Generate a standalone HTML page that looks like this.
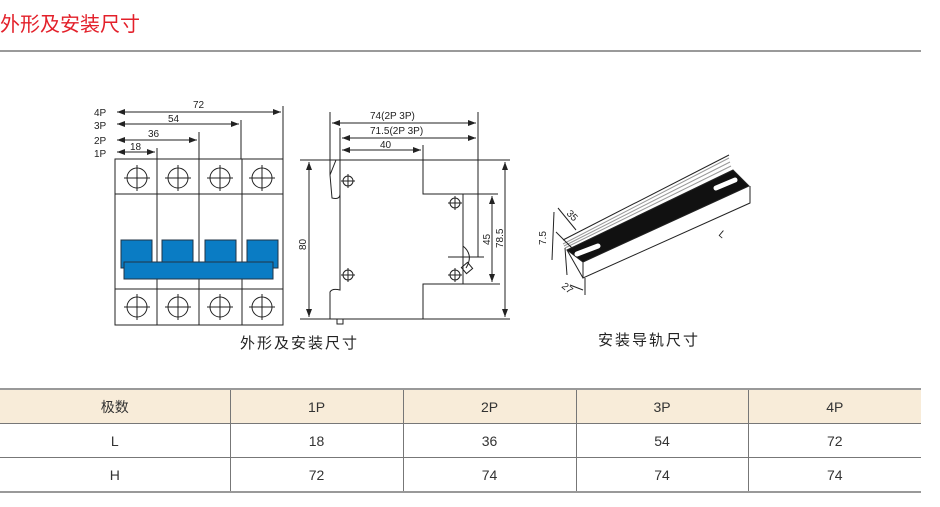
<!DOCTYPE html>
<html><head><meta charset="utf-8"><style>
body{margin:0;background:#fff;width:940px;height:507px;overflow:hidden;font-family:"Liberation Sans","Noto Sans CJK SC",sans-serif}
.t{position:absolute;left:0;top:8px;color:#e3202a;font-size:20px}
.hl{position:absolute;left:0;top:50px;width:921px;height:2px;background:#9a9a9a}
table{position:absolute;left:0;top:388px;width:921px;border-collapse:collapse;table-layout:fixed;font-size:14px;color:#333}
td{border:1px solid #777;text-align:center;height:33px;padding:0}
tr:first-child td{background:#f8ecd9}
table{border-top:2px solid #999;border-bottom:2px solid #999}
td:first-child{border-left:none}td:last-child{border-right:none}
</style></head><body>
<div class="t">外形及安装尺寸</div><div class="hl"></div>
<svg width="940" height="380" style="position:absolute;left:0;top:0" font-family="Liberation Sans, sans-serif" font-size="10">
<defs><marker id="a" markerWidth="8" markerHeight="6" refX="8" refY="3" orient="auto-start-reverse"><path d="M0,0L8,3L0,6z" fill="#222"/></marker></defs>
<g stroke="#222" stroke-width="1" fill="none">
<rect x="115" y="159" width="168" height="166"/>
<line x1="115" y1="194" x2="283" y2="194"/><line x1="115" y1="289" x2="283" y2="289"/>
<line x1="157" y1="159" x2="157" y2="325"/><line x1="199" y1="159" x2="199" y2="325"/><line x1="242" y1="159" x2="242" y2="325"/>
<g id="c"><circle cx="137" cy="178" r="10"/><line x1="124" y1="178" x2="150" y2="178"/><line x1="137" y1="165" x2="137" y2="191"/></g>
<use href="#c" x="41"/><use href="#c" x="83"/><use href="#c" x="125"/>
<use href="#c" y="129"/><use href="#c" x="41" y="129"/><use href="#c" x="83" y="129"/><use href="#c" x="125" y="129"/>
<g fill="#0a7cc4" stroke="#234"><rect x="121" y="240" width="31" height="28"/><rect x="162" y="240" width="31" height="28"/><rect x="205" y="240" width="31" height="28"/><rect x="247" y="240" width="31" height="28"/><rect x="124" y="262" width="149" height="17"/></g>
<line x1="117" y1="112" x2="281" y2="112" marker-start="url(#a)" marker-end="url(#a)"/>
<line x1="117" y1="124" x2="239" y2="124" marker-start="url(#a)" marker-end="url(#a)"/>
<line x1="117" y1="140" x2="197" y2="140" marker-start="url(#a)" marker-end="url(#a)"/>
<line x1="117" y1="152" x2="155" y2="152" marker-start="url(#a)" marker-end="url(#a)"/>
<line x1="283" y1="106" x2="283" y2="159"/><line x1="241" y1="120" x2="241" y2="159"/><line x1="199" y1="132" x2="199" y2="159"/><line x1="157" y1="148" x2="157" y2="159"/>
<path d="M300,160H340V194Q340,200 332,198L330,175L336,160M340,194V290Q332,288 330,292V319H423V284H463V194H423V160H340"/>
<line x1="423" y1="160" x2="510" y2="160"/><line x1="300" y1="319" x2="510" y2="319"/>
<line x1="463" y1="284" x2="500" y2="284"/><line x1="463" y1="194" x2="498" y2="194"/><line x1="448" y1="257" x2="484" y2="257"/>
<line x1="330" y1="112" x2="330" y2="175"/><line x1="340" y1="128" x2="340" y2="160"/><line x1="423" y1="145" x2="423" y2="194"/><line x1="478" y1="112" x2="478" y2="257"/>
<line x1="332" y1="123" x2="476" y2="123" marker-start="url(#a)" marker-end="url(#a)"/>
<line x1="342" y1="138" x2="476" y2="138" marker-start="url(#a)" marker-end="url(#a)"/>
<line x1="342" y1="150" x2="421" y2="150" marker-start="url(#a)" marker-end="url(#a)"/>
<line x1="309" y1="162" x2="309" y2="317" marker-start="url(#a)" marker-end="url(#a)"/>
<line x1="505" y1="162" x2="505" y2="317" marker-start="url(#a)" marker-end="url(#a)"/>
<line x1="492" y1="196" x2="492" y2="282" marker-start="url(#a)" marker-end="url(#a)"/>
<g id="s"><circle cx="348" cy="181" r="5"/><line x1="341" y1="181" x2="355" y2="181"/><line x1="348" y1="174" x2="348" y2="188"/></g>
<use href="#s" y="94"/><use href="#s" x="107" y="22"/><use href="#s" x="107" y="94"/>
<path d="M463,246Q474,255 466,268"/><rect x="463" y="264" width="8" height="8" transform="rotate(-40 467 268)"/>
<rect x="337" y="319" width="6" height="5"/>
<path d="M567,250L733,170L749,186L583,262Z" fill="#111"/>
<path d="M583,262V278L750,203V186" />
<line x1="567" y1="250" x2="583" y2="278"/>
<g stroke="#999"><line x1="563" y1="244" x2="729" y2="158"/><line x1="564" y1="246" x2="730" y2="162"/><line x1="565" y1="248" x2="731" y2="166"/></g>
<line x1="563" y1="240" x2="729" y2="155"/>
<line x1="556" y1="232" x2="572" y2="248"/><line x1="558" y1="208" x2="576" y2="230"/>
<line x1="554" y1="212" x2="552" y2="260"/><line x1="565" y1="248" x2="567" y2="275"/>
<line x1="570" y1="285" x2="583" y2="290"/><line x1="585" y1="278" x2="585" y2="295"/>
</g>
<g stroke="#fff" stroke-width="5" stroke-linecap="round"><line x1="577" y1="254" x2="598" y2="246"/><line x1="716" y1="188" x2="735" y2="180"/></g>
<g fill="#222">
<text x="94" y="116">4P</text><text x="94" y="129">3P</text><text x="94" y="144">2P</text><text x="94" y="157">1P</text>
<text x="193" y="108">72</text><text x="168" y="122">54</text><text x="148" y="137">36</text><text x="130" y="150">18</text>
<text x="370" y="119">74(2P  3P)</text><text x="370" y="134">71.5(2P  3P)</text><text x="380" y="148">40</text>
<text transform="translate(306,250) rotate(-90)">80</text><text transform="translate(490,245) rotate(-90)">45</text><text transform="translate(503,248) rotate(-90)">78.5</text>
<text transform="translate(566,214) rotate(45)">35</text><text transform="translate(546,245) rotate(-90)">7.5</text><text transform="translate(561,287) rotate(40)">27</text><text transform="translate(718,235) rotate(40)">L</text>
<text x="240" y="348" font-size="15" font-family="Liberation Sans, Noto Sans CJK SC, sans-serif" letter-spacing="2">外形及安装尺寸</text>
<text x="598" y="345" font-size="15" font-family="Liberation Sans, Noto Sans CJK SC, sans-serif" letter-spacing="2">安装导轨尺寸</text>
</g></svg>
<table>
<colgroup><col style="width:230px"><col style="width:173px"><col style="width:173px"><col style="width:172px"><col style="width:173px"></colgroup>
<tr><td>极数</td><td>1P</td><td>2P</td><td>3P</td><td>4P</td></tr>
<tr><td>L</td><td>18</td><td>36</td><td>54</td><td>72</td></tr>
<tr><td>H</td><td>72</td><td>74</td><td>74</td><td>74</td></tr>
</table>
</body></html>
